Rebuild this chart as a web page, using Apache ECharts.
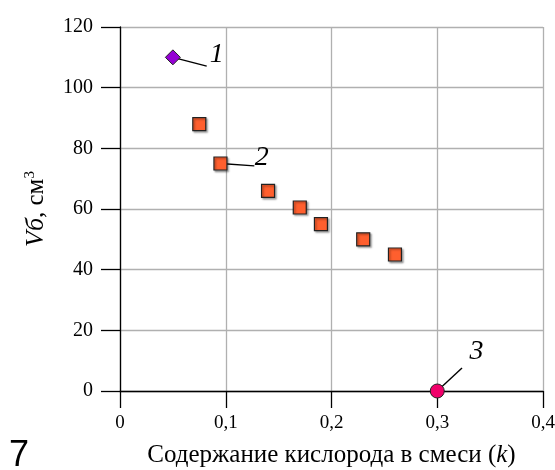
<!DOCTYPE html>
<html><head><meta charset="utf-8">
<script src="https://cdn.jsdelivr.net/npm/echarts@6/dist/echarts.min.js"></script>
<style>html,body{margin:0;padding:0;background:#fff}#c{width:555px;height:470px}</style>
</head><body><div id="c"></div>
<script>
// Data
const point1 = [[0.05, 110]];
const squares = [[0.075, 88], [0.095, 75], [0.14, 66], [0.17, 60.5], [0.19, 55], [0.23, 50], [0.26, 45]];
const point3 = [[0.3, 0]];
const xTicks = [0, 0.1, 0.2, 0.3, 0.4];
const yTicks = [0, 20, 40, 60, 80, 100, 120];
// annotations: label, line start, line end, label position (data units)
const annLabels = ['1', '2', '3'];
const annFrom = [[0.05, 110], [0.095, 75], [0.3, 0]];
const annTo = [[0.082, 107.1], [0.127, 74.2], [0.3234, 7.6]];
const annText = [[0.0915, 110.9], [0.134, 76.8], [0.337, 12.9]];

const serif = '"Liberation Serif", "Times New Roman", serif';
const chart = echarts.init(document.getElementById('c'), null, {renderer: 'canvas'});

const annSeries = [];
annLabels.forEach((t, i) => {
  annSeries.push({
    type: 'line', data: [annFrom[i], annTo[i]], symbol: 'none', silent: true,
    lineStyle: {color: '#000', width: 1.4}, z: 2, animation: false
  });
});
annSeries.push({
  type: 'scatter', symbol: 'circle', symbolSize: 0, silent: true, z: 5,
  itemStyle: {color: '#000', opacity: 1},
  data: annText.map((p, i) => ({value: p, name: annLabels[i]})),
  label: {show: true, position: 'inside', formatter: p => p.name,
    fontFamily: serif, fontStyle: 'italic', fontSize: 28, color: '#000', opacity: 1}
});

chart.setOption({
  animation: false,
  grid: {left: 120, right: 12, top: 27, bottom: 79, containLabel: false, outerBoundsMode: 'none'},
  xAxis: {
    type: 'value', min: 0, max: 0.4, interval: 0.1,
    name: 'Содержание кислорода в смеси ({i|k})', nameLocation: 'middle', nameGap: 52,
    nameTextStyle: {fontFamily: serif, fontSize: 25, color: '#000',
      rich: {i: {fontFamily: serif, fontSize: 25, fontStyle: 'italic', color: '#000'}}},
    axisLine: {show: true, onZero: false, lineStyle: {color: '#000', width: 1.3}},
    axisTick: {show: true, inside: false, length: 17, lineStyle: {color: '#000', width: 1.3}},
    axisLabel: {margin: 23, fontFamily: serif, fontSize: 19, color: '#000',
      formatter: v => { const m = xTicks.find(t => Math.abs(t - v) < 1e-9); return m === undefined ? '' : String(+m.toFixed(1)).replace('.', ','); }},
    splitLine: {show: true, lineStyle: {color: '#b0b0b0', width: 1.3}}
  },
  yAxis: {
    type: 'value', min: 0, max: 120, interval: 20,
    name: '{i|Vб}, см{s|3}', nameLocation: 'middle', nameGap: 70, nameRotate: 90,
    nameTextStyle: {fontFamily: serif, fontSize: 25, color: '#000',
      rich: {i: {fontFamily: serif, fontSize: 26, fontStyle: 'italic', color: '#000'},
             s: {fontFamily: serif, fontSize: 15, color: '#000', verticalAlign: 'top', padding: [0, 0, 12, 0]}}},
    axisLine: {show: true, lineStyle: {color: '#000', width: 1.3}},
    axisTick: {show: true, inside: false, length: 19, lineStyle: {color: '#000', width: 1.3}},
    axisLabel: {margin: 27, fontFamily: serif, fontSize: 20, color: '#000',
      formatter: v => yTicks.includes(v) ? String(v) : ''},
    splitLine: {show: true, lineStyle: {color: '#b0b0b0', width: 1.3}}
  },
  graphic: [{type: 'text', left: 9, top: 438, style: {text: '7', fontFamily: '"Liberation Sans", Arial, sans-serif', fontSize: 36, fill: '#000'}}],
  series: annSeries.concat([
    {type: 'scatter', data: point1, symbol: 'diamond', symbolSize: [15, 15], z: 10,
      itemStyle: {color: '#9400d3', borderColor: '#222', borderWidth: 1, opacity: 1}},
    {type: 'scatter', data: squares, symbol: 'rect', symbolSize: 13, z: 10,
      itemStyle: {color: '#ff5f2e', borderColor: '#222', borderWidth: 1.2, opacity: 1,
        shadowColor: 'rgba(0,0,0,0.35)', shadowBlur: 2, shadowOffsetX: 1.5, shadowOffsetY: 1.5}},
    {type: 'scatter', data: point3, symbol: 'circle', symbolSize: 14, z: 10,
      itemStyle: {color: '#f0006a', borderColor: '#222', borderWidth: 1, opacity: 1}}
  ])
});
</script></body></html>
